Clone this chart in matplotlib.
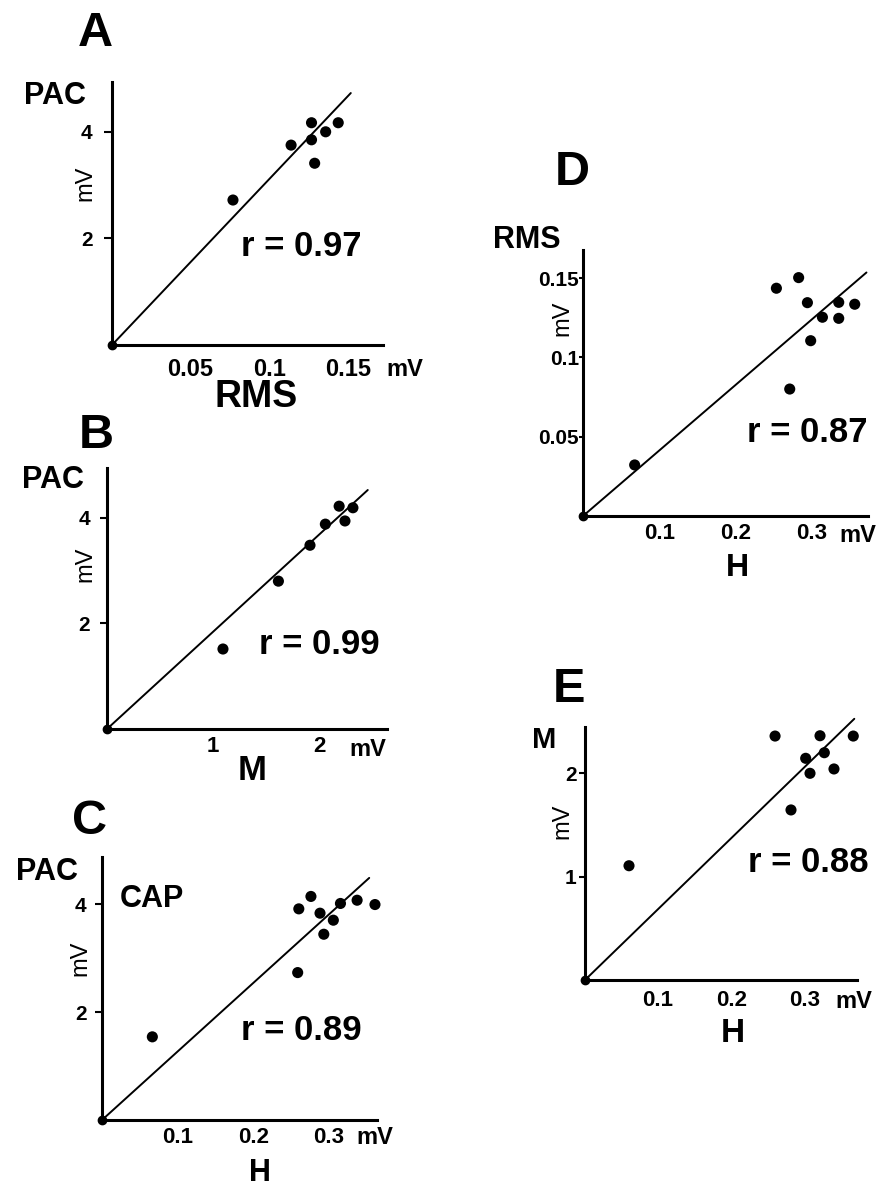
import matplotlib
matplotlib.use("Agg")
import matplotlib.pyplot as plt

plt.rcParams['font.family'] = ['Liberation Sans', 'DejaVu Sans']

W, H = 883, 1187

# ---------------- data ----------------
# Panel A: PAC vs RMS
a_x = [0.077, 0.114, 0.127, 0.127, 0.129, 0.136, 0.144]
a_y = [2.72, 3.75, 4.17, 3.85, 3.41, 4.00, 4.17]
a_slope, a_xend = 31.1, 0.152
a_xticks, a_xlabels = [0.05, 0.1, 0.15], ["0.05", "0.1", "0.15"]
a_yticks, a_ylabels = [2, 4], ["2", "4"]
a_r = "r = 0.97"

# Panel B: PAC vs M
b_x = [1.094, 1.617, 1.915, 2.06, 2.19, 2.245, 2.32]
b_y = [1.515, 2.80, 3.48, 3.88, 4.22, 3.94, 4.19]
b_slope, b_xend = 1.84, 2.46
b_xticks, b_xlabels = [1, 2], ["1", "2"]
b_yticks, b_ylabels = [2, 4], ["2", "4"]
b_r = "r = 0.99"

# Panel C: PAC vs H (CAP)
c_x = [0.0665, 0.2585, 0.260, 0.276, 0.288, 0.293, 0.3056, 0.315, 0.337, 0.3606]
c_y = [1.54, 2.73, 3.91, 4.14, 3.83, 3.44, 3.70, 4.01, 4.07, 3.99]
c_slope, c_xend = 12.7, 0.353
c_xticks, c_xlabels = [0.1, 0.2, 0.3], ["0.1", "0.2", "0.3"]
c_yticks, c_ylabels = [2, 4], ["2", "4"]
c_r = "r = 0.89"

# Panel D: RMS vs H
d_x = [0.0678, 0.2538, 0.283, 0.2945, 0.2988, 0.2713, 0.3142, 0.3356, 0.3356, 0.3566]
d_y = [0.0322, 0.1437, 0.1504, 0.1346, 0.1106, 0.0801, 0.1254, 0.1348, 0.1247, 0.1336]
d_slope, d_xend = 0.413, 0.372
d_xticks, d_xlabels = [0.1, 0.2, 0.3], ["0.1", "0.2", "0.3"]
d_yticks, d_ylabels = [0.05, 0.1, 0.15], ["0.05", "0.1", "0.15"]
d_r = "r = 0.87"

# Panel E: M vs H
e_x = [0.0602, 0.26, 0.2818, 0.3019, 0.3078, 0.3215, 0.3274, 0.3406, 0.367]
e_y = [1.104, 2.357, 1.643, 2.142, 1.997, 2.36, 2.196, 2.039, 2.357]
e_slope, e_xend = 6.85, 0.3684
e_xticks, e_xlabels = [0.1, 0.2, 0.3], ["0.1", "0.2", "0.3"]
e_yticks, e_ylabels = [1, 2], ["1", "2"]
e_r = "r = 0.88"

fig = plt.figure(figsize=(W / 100, H / 100), dpi=100)
fig.patch.set_facecolor("white")


def fx(px):
    return px / W


def fy(py):
    return 1 - py / H


def panel(ox, oy, right, top, xmax, ymax, xs, ys, slope, xend,
          xticks, xlabels, yticks, ylabels, xpad, ylen, ypad, xfs=16, yfs=15):
    ax = fig.add_axes([fx(ox), fy(oy), (right - ox) / W, (oy - top) / H])
    ax.set_xlim(0, xmax)
    ax.set_ylim(0, ymax)
    for s in ["top", "right"]:
        ax.spines[s].set_visible(False)
    for s in ["left", "bottom"]:
        ax.spines[s].set_linewidth(2.2)
        ax.spines[s].set_color("black")
    ax.set_facecolor("none")
    ax.plot([0, xend], [0, slope * xend], color="black", lw=1.4,
            solid_capstyle="round", clip_on=False, zorder=3)
    ax.plot([0], [0], "o", color="black", ms=6, clip_on=False, zorder=4)
    ax.scatter(xs, ys, s=64, color="black", edgecolors="none",
               clip_on=False, zorder=5)
    ax.set_xticks(xticks)
    ax.set_xticklabels(xlabels, fontsize=xfs, fontweight="bold")
    ax.set_yticks(yticks)
    ax.set_yticklabels(ylabels, fontsize=yfs, fontweight="bold")
    ax.tick_params(axis="x", length=0, pad=xpad)
    ax.tick_params(axis="y", direction="out", length=ylen, width=1.5, pad=ypad)
    return ax


def txt(px, py, s, size, weight="bold", rot=0):
    fig.text(fx(px), fy(py), s, fontsize=size, fontweight=weight,
             ha="center", va="center", rotation=rot)


# ---- Panel A ----
panel(112, 345, 383, 82, 271 / 1571, 263 / 53.3, a_x, a_y, a_slope, a_xend,
      a_xticks, a_xlabels, a_yticks, a_ylabels, 9, 6, 8, xfs=17)
txt(95, 33, "A", 35)
txt(55, 96, "PAC", 22)
txt(85, 183, "mV", 17, "normal", 90)
txt(405, 370, "mV", 17)
txt(256, 397, "RMS", 27)
txt(301, 246, a_r, 25)

# ---- Panel B ----
panel(107, 729, 387, 468, 280 / 106, 261 / 52.8, b_x, b_y, b_slope, b_xend,
      b_xticks, b_xlabels, b_yticks, b_ylabels, 5, 5, 7)
txt(96, 436, "B", 35)
txt(53, 480, "PAC", 22)
txt(85, 564, "mV", 17, "normal", 90)
txt(368, 749, "mV", 17)
txt(252, 771, "M", 25)
txt(319, 645, b_r, 25)

# ---- Panel C ----
panel(102, 1120, 377, 857, 275 / 757, 263 / 54, c_x, c_y, c_slope, c_xend,
      c_xticks, c_xlabels, c_yticks, c_ylabels, 5, 5, 6)
txt(90, 822, "C", 35)
txt(47, 872, "PAC", 22)
txt(152, 899, "CAP", 22)
txt(80, 958, "mV", 17, "normal", 90)
txt(375, 1138, "mV", 17)
txt(260, 1173, "H", 22)
txt(301, 1030, c_r, 25)

# ---- Panel D ----
panel(583, 516, 868, 250, 285 / 762, 266 / 1585, d_x, d_y, d_slope, d_xend,
      d_xticks, d_xlabels, d_yticks, d_ylabels, 5, 3, 0)
txt(572, 172, "D", 35)
txt(527, 240, "RMS", 22)
txt(562, 318, "mV", 17, "normal", 90)
txt(858, 536, "mV", 17)
txt(737, 568, "H", 23)
txt(807, 432, d_r, 25)

# ---- Panel E ----
panel(585, 980, 857, 727, 272 / 731, 253 / 103.5, e_x, e_y, e_slope, e_xend,
      e_xticks, e_xlabels, e_yticks, e_ylabels, 7, 4, 2)
txt(569, 690, "E", 35)
txt(544, 740, "M", 21)
txt(562, 821, "mV", 17, "normal", 90)
txt(854, 1002, "mV", 17)
txt(733, 1033, "H", 24)
txt(808, 862, e_r, 25)

fig.savefig("out.png", dpi=100, facecolor="white")
